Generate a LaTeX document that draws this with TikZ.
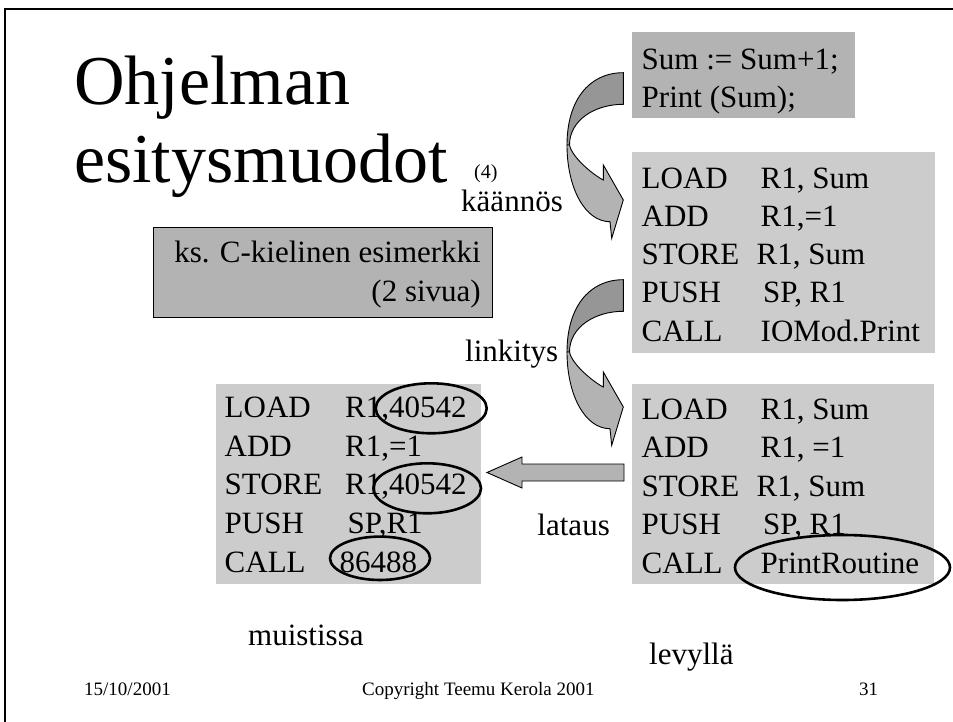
\documentclass[tikz,border=0pt]{standalone}
\usepackage{fontspec}
\setmainfont{Liberation Serif}
\definecolor{boxdark}{HTML}{B3B3B3}
\definecolor{boxlight}{HTML}{CCCCCC}
\definecolor{foldback}{HTML}{969696}
\newcommand{\codefont}{\fontsize{31}{38}\selectfont}
% one assembler line: name, x of opcode, x of operands, baseline, opcode, operands
\newcommand{\asmrow}[6]{%
  \node[codetext] (#1op) at (#2,#4) {#5};
  \node[codetext] (#1arg) at (#3,#4) {#6};}
% curved "translate" arrow, drawn at its own place and shifted by the scope
\newcommand{\bendarrow}{%
  \filldraw[outline, fill=foldback]
    (623.3,72.7) .. controls (588.5,72.7) and (567,101) .. (567,145)
    -- (569.5,145) .. controls (569.5,120) and (595,104.3) .. (623.3,104.3) -- cycle;
  \filldraw[outline, fill=boxdark]
    (567,145) .. controls (567,188) and (585,221.7) .. (610,221.7)
    -- (611.7,238.3) -- (623.3,200) -- (603.3,165) -- (603.3,180)
    .. controls (595,176) and (572,158) .. (569.5,145) -- cycle;}
\begin{document}
\begin{tikzpicture}[x=1pt,y=-1pt,
  panel/.style={inner sep=0pt, outer sep=0pt, anchor=north west},
  codetext/.style={anchor=base west, inner sep=0pt, font=\codefont},
  label/.style={inner sep=0pt, font=\codefont},
  outline/.style={draw=black, line width=0.9pt, line join=miter},
  ring/.style={draw=black, line width=2.6pt},
  titletext/.style={anchor=base west, inner sep=0pt, font=\fontsize{70}{80}\selectfont},
  foot/.style={anchor=base west, inner sep=0pt, font=\fontsize{19}{21}\selectfont}]
\useasboundingbox (0,0) rectangle (953,722);
\fill[white] (0,0) rectangle (953,722);

% slide frame
\draw[line width=2pt] (5,722) -- (5,9) -- (953,9);

% title
\node[titletext] (title1) at (74,105) {Ohjelman};
\node[titletext] (title2) at (74,183) {esitysmuodot};
\node[anchor=base west, inner sep=0pt, font=\fontsize{20}{24}\selectfont] (titlenum) at (474,178.5) {(4)};

% source program
\node[panel, fill=boxdark, minimum width=223pt, minimum height=86pt] (src) at (632,32) {};
\node[codetext] (src1) at (641.5,70) {Sum := Sum+1;};
\node[codetext] (src2) at (641.5,107.3) {Print (Sum);};

% object module
\node[panel, fill=boxlight, minimum width=303pt, minimum height=201pt] (obj) at (632,152) {};
\asmrow{objA}{641.5}{760.5}{188.3}{LOAD}{R1, Sum}
\asmrow{objB}{641.5}{760.5}{226.5}{ADD}{R1,=1}
\asmrow{objC}{641.5}{756.5}{264.7}{STORE}{R1, Sum}
\asmrow{objD}{641.5}{763}{302.9}{PUSH}{SP, R1}
\asmrow{objE}{641.5}{760.5}{341.1}{CALL}{IOMod.Print}

% load module on disk
\node[panel, fill=boxlight, minimum width=302pt, minimum height=200pt] (disk) at (632,384) {};
\asmrow{dskA}{641.5}{760.5}{419.5}{LOAD}{R1, Sum}
\asmrow{dskB}{641.5}{760.5}{457.9}{ADD}{R1, =1}
\asmrow{dskC}{641.5}{756.5}{496.3}{STORE}{R1, Sum}
\asmrow{dskD}{641.5}{763}{534.7}{PUSH}{SP, R1}
\asmrow{dskE}{641.5}{760.5}{573.1}{CALL}{PrintRoutine}

% program in memory
\node[panel, fill=boxlight, minimum width=265pt, minimum height=200pt] (mem) at (216,384) {};
\asmrow{memA}{224.5}{345}{417.5}{LOAD}{R1,40542}
\asmrow{memB}{224.5}{345}{456}{ADD}{R1,=1}
\asmrow{memC}{224.5}{345}{494.5}{STORE}{R1,40542}
\asmrow{memD}{224.5}{347.5}{533}{PUSH}{SP,R1}
\asmrow{memE}{224.5}{339.5}{572}{CALL}{86488}

% reference note
\node[panel, fill=boxdark, draw=black, line width=0.9pt, minimum width=339pt, minimum height=90pt] (note) at (153,227) {};
\node[label, anchor=base east] (note1) at (481,262) {ks. C-kielinen esimerkki};
\node[label, anchor=base east] (note2) at (481,301) {(2 sivua)};

% compile and link arrows
\bendarrow
\begin{scope}[shift={(0,207)}]
  \bendarrow
\end{scope}
\node[label, anchor=base east] (compile) at (563,211.5) {käännös};
\node[label, anchor=base west] (link) at (465,361) {linkitys};

% load arrow
\filldraw[outline, fill=boxdark]
  (624,464) -- (522,464) -- (522,457) -- (487,472.5) -- (522,488) -- (522,481) -- (624,481) -- cycle;
\node[label, anchor=base east] (load) at (610,535) {lataus};

% resolved addresses
\draw[ring] (431.2,408.3) ellipse [x radius=55.5, y radius=25];
\draw[ring] (427.2,488.3) ellipse [x radius=53.8, y radius=25];
\draw[ring] (380,558.3) ellipse [x radius=50, y radius=21.7];
\draw[ring] (842.5,567.5) ellipse [x radius=107.5, y radius=32.5];

% captions
\node[label, anchor=base west] (inmem) at (248,645) {muistissa};
\node[label, anchor=base west] (ondisk) at (649,664) {levyllä};

% footer
\node[foot] (date) at (84,695) {15/10/2001};
\node[foot] (copy) at (362,695) {Copyright Teemu Kerola 2001};
\node[foot] (page) at (859,695) {31};
\end{tikzpicture}
\end{document}
